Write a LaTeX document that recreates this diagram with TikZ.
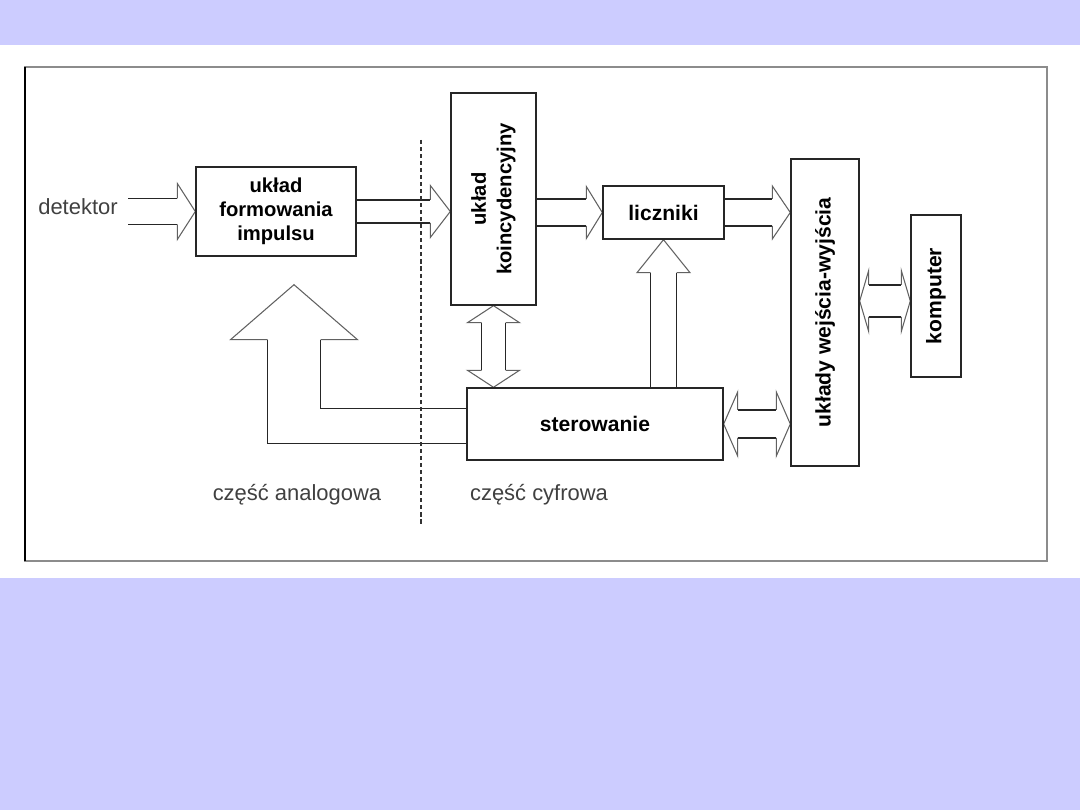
\documentclass[tikz,border=0pt]{standalone}
\usepackage{fontspec}
\setmainfont{Liberation Sans}
\usetikzlibrary{calc,positioning,shapes,backgrounds}

\definecolor{slidebg}{HTML}{CCCCFF}

% hollow block arrow: tail, tip, shaft half width, head half width, head length (px)
\newcommand{\blockarr}[5]{%
  \coordinate (bt) at #1; \coordinate (bp) at #2;
  \coordinate (bb) at ($(bp)!#5*0.02cm!(bt)$);
  \coordinate (btl) at ($(bt)!#3*0.02cm!90:(bp)$);
  \coordinate (btr) at ($(bt)!#3*0.02cm!-90:(bp)$);
  \coordinate (bsl) at ($(bb)!#3*0.02cm!-90:(bt)$);
  \coordinate (bsr) at ($(bb)!#3*0.02cm!90:(bt)$);
  \coordinate (bhl) at ($(bb)!#4*0.02cm!-90:(bt)$);
  \coordinate (bhr) at ($(bb)!#4*0.02cm!90:(bt)$);
  \fill[white] (btl) -- (bsl) -- (bhl) -- (bp) -- (bhr) -- (bsr) -- (btr) -- cycle;
  \draw[shaft] (btl) -- (bsl);
  \draw[shaft] (btr) -- (bsr);
  \draw[head] (bsl) -- (bhl) -- (bp) -- (bhr) -- (bsr);
}
% hollow double block arrow: tip, tip, shaft half width, head half width, head length (px)
\newcommand{\dblockarr}[5]{%
  \coordinate (da) at #1; \coordinate (db) at #2;
  \coordinate (dab) at ($(da)!#5*0.02cm!(db)$);
  \coordinate (dbb) at ($(db)!#5*0.02cm!(da)$);
  \coordinate (dasl) at ($(dab)!#3*0.02cm!90:(db)$);
  \coordinate (dasr) at ($(dab)!#3*0.02cm!-90:(db)$);
  \coordinate (dahl) at ($(dab)!#4*0.02cm!90:(db)$);
  \coordinate (dahr) at ($(dab)!#4*0.02cm!-90:(db)$);
  \coordinate (dbsl) at ($(dbb)!#3*0.02cm!-90:(da)$);
  \coordinate (dbsr) at ($(dbb)!#3*0.02cm!90:(da)$);
  \coordinate (dbhl) at ($(dbb)!#4*0.02cm!-90:(da)$);
  \coordinate (dbhr) at ($(dbb)!#4*0.02cm!90:(da)$);
  \fill[white] (da) -- (dahl) -- (dasl) -- (dbsl) -- (dbhl) -- (db) -- (dbhr) -- (dbsr) -- (dasr) -- (dahr) -- cycle;
  \draw[shaft] (dasl) -- (dbsl);
  \draw[shaft] (dasr) -- (dbsr);
  \draw[head] (dasl) -- (dahl) -- (da) -- (dahr) -- (dasr);
  \draw[head] (dbsl) -- (dbhl) -- (db) -- (dbhr) -- (dbsr);
}

\begin{document}
\begin{tikzpicture}[x=0.02cm, y=-0.02cm,
  box/.style={draw=black!85, line width=0.8pt, fill=white, inner sep=0pt, align=center,
    font=\fontsize{12}{14}\selectfont\bfseries},
  parttext/.style={text=black!75, inner sep=0pt, font=\fontsize{12.5}{15}\selectfont},
  shaft/.style={draw=black!85, line width=0.8pt},
  head/.style={draw=black!62, line width=0.6pt}]

\useasboundingbox (0,0) rectangle (1080,810);

\node[box, minimum width=3.2cm, minimum height=1.78cm, font=\fontsize{11.5}{13.6}\selectfont\bfseries]
  (form) at (276,211.5) {układ\\formowania\\impulsu};
\node[box, minimum width=1.7cm, minimum height=4.24cm] (koinc) at (493.5,199)
  {\rotatebox{90}{\fontsize{11.5}{14.5}\selectfont\begin{tabular}{@{}c@{}}układ\\koincydencyjny\end{tabular}}};
\node[box, minimum width=2.42cm, minimum height=1.06cm] (licz) at (663.5,212.5) {liczniki};
\node[box, minimum width=5.12cm, minimum height=1.44cm] (ster) at (595,424) {sterowanie};
\node[box, minimum width=1.36cm, minimum height=6.14cm] (io) at (825,312.5)
  {\rotatebox{90}{układy wejścia-wyjścia}};
\node[box, minimum width=1cm, minimum height=3.24cm] (komp) at (936,296) {\rotatebox{90}{komputer}};

\node[parttext] (det) at (78,207) {detektor};
\node[parttext] (analog) at (297,495) {część analogowa};
\node[parttext] (digital) at (539,495) {część cyfrowa};
\coordinate (detin) at (128,211.5);
\coordinate (fbtip) at ($(form.south)+(18,28)$);

\begin{scope}[on background layer]
\fill[slidebg] (0,0) rectangle (1080,810);
\fill[white] (0,45) rectangle (1080,578);
\draw[black!45, line width=1pt] (25,67) rectangle (1047,561);
\draw[black, line width=0.8pt] (25,67) -- (25,561);

\blockarr{(detin)}{(form.west)}{13}{28}{18}
\blockarr{(form.east)}{(koinc.west |- form.east)}{11.5}{26}{20}
\blockarr{(licz.west -| koinc.east)}{(licz.west)}{13.5}{26}{16}
\blockarr{(licz.east)}{(io.west |- licz.east)}{13.5}{26.5}{18}
\blockarr{(licz.south |- ster.north)}{(licz.south)}{13}{26.5}{33}
\dblockarr{(koinc.south)}{(koinc.south |- ster.north)}{12}{26}{17}
\dblockarr{(ster.east)}{(io.west |- ster.east)}{14}{32}{14}
\dblockarr{($(io.east |- komp.west)+(0,5)$)}{($(komp.west)+(0,5)$)}{16}{30.5}{9}

% feedback from sterowanie back to the analog part
\fill[white] ($(ster.south west)+(0,-17)$) -| ($(fbtip)+(-26.5,55)$) -- ($(fbtip)+(-63.5,55)$)
  -- (fbtip) -- ($(fbtip)+(63.5,55)$) -- ($(fbtip)+(26.5,55)$) |- ($(ster.north west)+(0,21)$) -- cycle;
\draw[shaft] ($(ster.south west)+(0,-17)$) -| ($(fbtip)+(-26.5,55)$);
\draw[head] ($(fbtip)+(-26.5,55)$) -- ($(fbtip)+(-63.5,55)$) -- (fbtip)
  -- ($(fbtip)+(63.5,55)$) -- ($(fbtip)+(26.5,55)$);
\draw[shaft] ($(fbtip)+(26.5,55)$) |- ($(ster.north west)+(0,21)$);
\end{scope}

\draw[black!80, line width=0.6pt, dash pattern=on 2.3pt off 1.7pt] (421,140) -- (421,525);
\end{tikzpicture}
\end{document}
